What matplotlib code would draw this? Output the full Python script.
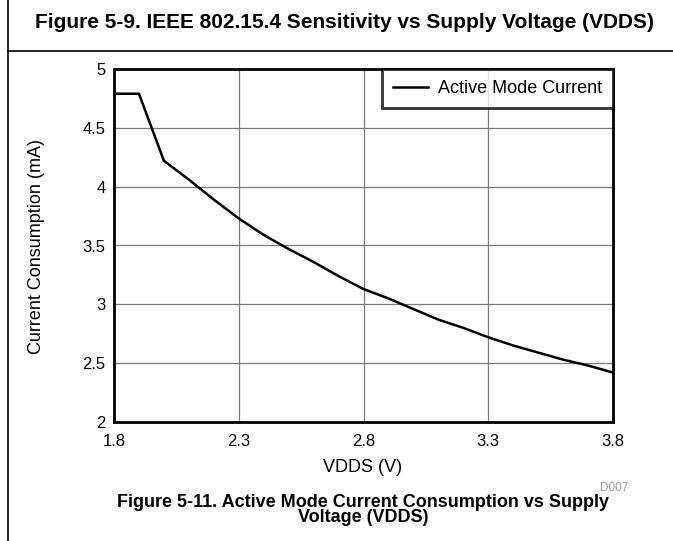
import matplotlib
matplotlib.use("Agg")
import matplotlib.pyplot as plt
from matplotlib.lines import Line2D

plt.rcParams['font.family'] = ['Liberation Sans', 'DejaVu Sans']

vdds = [1.8, 1.9, 2.0, 2.1, 2.2, 2.3, 2.4, 2.5, 2.6, 2.7, 2.8,
        2.9, 3.0, 3.1, 3.2, 3.3, 3.4, 3.5, 3.6, 3.7, 3.8]
current = [4.79, 4.79, 4.22, 4.06, 3.89, 3.73, 3.59, 3.47, 3.36, 3.24, 3.13,
           3.05, 2.96, 2.87, 2.80, 2.72, 2.65, 2.59, 2.53, 2.48, 2.42]
xticks = [1.8, 2.3, 2.8, 3.3, 3.8]
yticks = [2, 2.5, 3, 3.5, 4, 4.5, 5]
ytick_labels = ['2', '2.5', '3', '3.5', '4', '4.5', '5']

W, H = 673, 541
fig = plt.figure(figsize=(W / 100, H / 100), dpi=100)
ax = fig.add_axes([114 / W, 1 - 422 / H, (613 - 114) / W, (422 - 69) / H])

ax.plot(vdds, current, color='black', lw=1.8, label='Active Mode Current')
ax.set_xlim(1.8, 3.8)
ax.set_ylim(2, 5)
ax.set_xticks(xticks)
ax.set_xticklabels([str(v) for v in xticks])
ax.set_yticks(yticks)
ax.set_yticklabels(ytick_labels)
ax.tick_params(length=0, labelsize=12)
ax.tick_params(axis='x', pad=9)
ax.tick_params(axis='y', pad=6)
ax.grid(True, color='#7a7a7a', lw=0.9)
ax.set_axisbelow(True)
for sp in ax.spines.values():
    sp.set_linewidth(2)

fig.text(363 / W, 1 - 467 / H, 'VDDS (V)', fontsize=13, ha='center', va='center')
fig.text(37 / W, 1 - 246 / H, 'Current Consumption (mA)', fontsize=13,
         rotation=90, ha='center', va='center')

leg = ax.legend(loc='upper right', fontsize=13, frameon=True, fancybox=False,
                borderaxespad=0, handlelength=1.95, handletextpad=0.55, borderpad=0.6)
leg.get_frame().set_edgecolor('black')
leg.get_frame().set_linewidth(2)

fig.text(628 / W, 1 - 488 / H, 'D007', color='#999999', fontsize=8.5, ha='right', va='center')

fig.text(345 / W, 1 - 22 / H,
         'Figure 5-9. IEEE 802.15.4 Sensitivity vs Supply Voltage (VDDS)',
         fontsize=15, fontweight='bold', ha='center', va='center')
fig.text(363 / W, 1 - 510 / H,
         'Figure 5-11. Active Mode Current Consumption vs Supply\nVoltage (VDDS)',
         fontsize=13, fontweight='bold', ha='center', va='center', linespacing=0.85)

fig.add_artist(Line2D([8 / W, 8 / W], [0, 1], color='black', lw=1.2))
fig.add_artist(Line2D([8 / W, 1], [1 - 51 / H, 1 - 51 / H], color='black', lw=1.2))

fig.savefig('out.png', dpi=100)
